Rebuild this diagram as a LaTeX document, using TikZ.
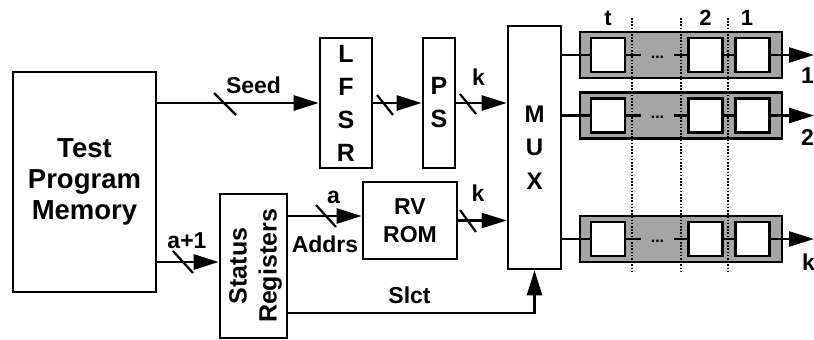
\documentclass[tikz,border=0pt]{standalone}
\usepackage{fontspec}
\setmainfont{Liberation Sans}
\usetikzlibrary{arrows.meta,calc}
\definecolor{regfill}{RGB}{165,165,165}
\begin{document}
\begin{tikzpicture}[x=1pt,y=-1pt,
  lw/.style={line width=2.6pt},
  box/.style={draw, lw, fill=white, inner sep=0pt},
  arr/.style={lw, -{Triangle[length=25pt 0 0,width=15pt 0 0]}},
  conn/.style={lw},
  slash/.style={line width=2.2pt},
  lab/.style={font=\fontsize{23}{26}\selectfont\bfseries, inner sep=0pt, anchor=base},
  regbox/.style={draw, lw, fill=regfill, minimum width=202pt, minimum height=46pt, inner sep=0pt},
  cell/.style={draw, lw, fill=white, minimum size=34pt, inner sep=0pt},
  sep/.style={line width=1.3pt, dash pattern=on 1.6pt off 1.6pt}
]
\useasboundingbox (0,0) rectangle (814,340);

% blocks
\node[box, minimum width=143pt, minimum height=220pt, align=center,
      font=\fontsize{27.5}{31}\selectfont\bfseries] (tpm) at (84.5,182) {Test\\Program\\Memory};
\node[box, minimum width=52pt, minimum height=130pt, align=center,
      font=\fontsize{25}{33}\selectfont\bfseries] (lfsr) at (346,103) {L\\F\\S\\R};
\node[box, minimum width=32pt, minimum height=130pt, align=center,
      font=\fontsize{25}{33}\selectfont\bfseries] (ps) at (439,103) {P\\S};
\node[box, minimum width=53pt, minimum height=243pt, align=center,
      font=\fontsize{24}{33.5}\selectfont\bfseries] (mux) at (534.5,147.5) {M\\U\\X};
\node[box, minimum width=67pt, minimum height=144pt] (stat) at (253.5,266) {};
\node[rotate=90, align=center, inner sep=0pt,
      font=\fontsize{25}{30}\selectfont\bfseries] (stattxt) at (255.5,266) {Status\\Registers};
\node[box, minimum width=94pt, minimum height=77pt, align=center,
      font=\fontsize{23}{28}\selectfont\bfseries] (rom) at (410,220.5) {RV\\ROM};

% connectors
\draw[arr] (tpm.east |- lfsr.west) -- (lfsr.west);
\draw[arr] (lfsr.east) -- (ps.west);
\draw[arr] (ps.east) -- (ps.east -| mux.west);
\coordinate (aa) at ($(tpm.east)+(0,80)$);
\draw[arr] (aa) -- (aa -| stat.west);
\coordinate (ad) at ($(rom.west)+(0,-4.5)$);
\draw[arr] (ad -| stat.east) -- (ad);
\draw[arr] (rom.east) -- (rom.east -| mux.west);
\coordinate (sc) at ($(stat.east)+(0,47)$);
\draw[arr] (sc) -- (sc -| mux.south) -- (mux.south);

% bus slashes
\draw[slash] (225,104) +(-11,-11) -- +(11,11);
\draw[slash] (385,105) +(-8,-10) -- +(8,10);
\draw[slash] (468,104) +(-8,-10) -- +(8,10);
\draw[slash] (183,262) +(-10,-11) -- +(10,11);
\draw[slash] (326,216) +(-10,-11) -- +(10,11);
\draw[slash] (468,221) +(-8,-11) -- +(8,11);

% labels
\node[lab] (seedl) at (253.5,93) {Seed};
\node[lab] (k1) at (478.5,85) {k};
\node[lab] (k2) at (478,201) {k};
\node[lab] (al) at (333.5,203) {a};
\node[lab] (a1l) at (187,248) {a+1};
\node[lab] (addl) at (325,252) {Addrs};
\node[lab] (slctl) at (409.5,303) {Slct};

% shift registers
\foreach \r/\yy in {1/55,2/115.5,3/239} {
  \node[regbox] (reg\r) at (681,\yy) {};
  \node[cell] (ca\r) at (608,\yy) {};
  \node[cell] (cb\r) at (705.5,\yy) {};
  \node[cell] (cc\r) at (752.5,\yy) {};
  \node[font=\fontsize{16}{18}\selectfont\bfseries, inner sep=0pt, anchor=base] (dots\r) at (657.5,\yy+3) {...};
  \draw[conn] (mux.east |- reg\r.west) -- (ca\r.west);
  \draw[conn] (ca\r.east) -- ++(15,0);
  \draw[conn] (cb\r.west) -- ++(-13,0);
  \draw[conn] (cb\r.east) -- (cc\r.west);
  \coordinate (out\r) at (814,\yy);
  \draw[arr] (cc\r.east) -- (out\r);
}

% stage separators
\draw[sep] (632,18) -- (632,273);
\draw[sep] (681,18) -- (681,273);
\draw[sep] (728,18) -- (728,273);

% stage labels
\node[lab, font=\fontsize{22}{25}\selectfont\bfseries] (tl) at (608,25) {t};
\node[lab, font=\fontsize{22}{25}\selectfont\bfseries] (twol) at (705.5,25) {2};
\node[lab, font=\fontsize{22}{25}\selectfont\bfseries] (onel) at (747,25) {1};

% output labels
\node[lab, anchor=base west] (o1) at (801,83) {1};
\node[lab, anchor=base west] (o2) at (801,145) {2};
\node[lab, anchor=base west] (o3) at (802,270) {k};
\end{tikzpicture}
\end{document}
